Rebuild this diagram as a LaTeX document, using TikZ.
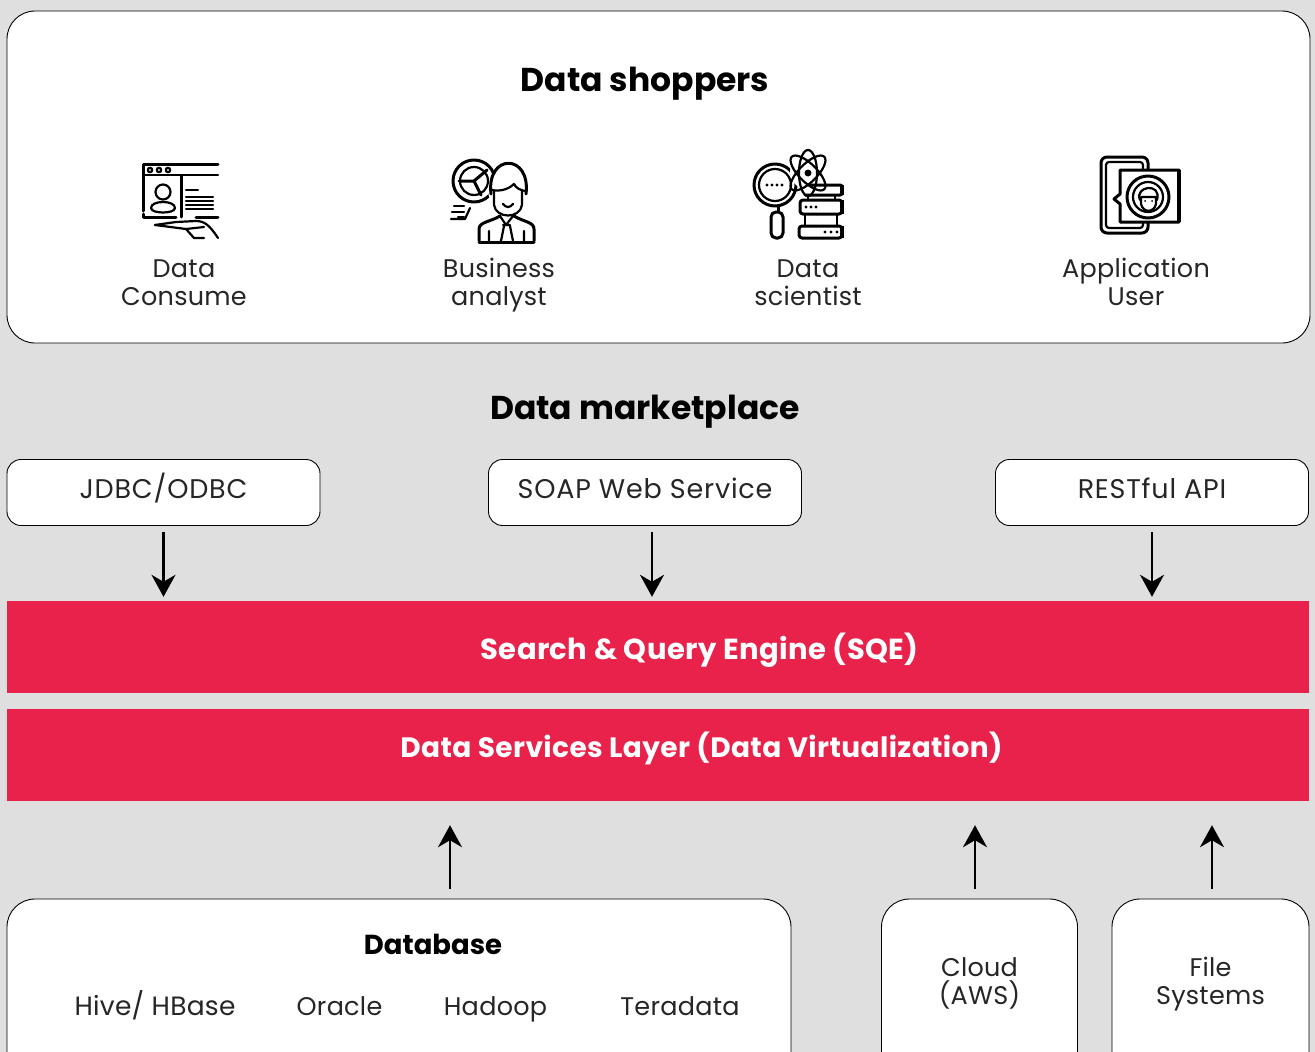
\documentclass[tikz,border=0pt]{standalone}
\usepackage{fontspec}
\setmainfont{Poppins}
\usetikzlibrary{arrows.meta,calc}
\definecolor{bgc}{HTML}{DFDFDF}
\definecolor{redc}{HTML}{E9224B}
\tikzset{
 x=1pt,y=-1pt,
 big/.style={rounded corners=28pt,draw=black,line width=0.9pt,fill=white,inner sep=0},
 api/.style={rounded corners=14pt,draw=black,line width=0.9pt,fill=white,inner sep=0,minimum width=313pt,minimum height=66pt},
 layer/.style={fill=redc,inner sep=0,minimum width=1302pt,minimum height=92pt},
 lab/.style={font=\fontsize{25.5}{28}\selectfont\addfontfeatures{LetterSpace=1},align=center,text=black!85,inner sep=0,text height=18pt,text depth=6pt},
 apilab/.style={font=\fontsize{27}{28}\selectfont\addfontfeatures{LetterSpace=3},text=black!85,inner sep=0,text height=18pt,text depth=6pt},
 head/.style={font=\fontsize{33}{36}\selectfont\bfseries,inner sep=0,text height=24pt,text depth=8pt},
 whitehead/.style={text=white,inner sep=0,text height=20pt,text depth=8pt},
 arr/.style={-{Stealth[length=22pt,width=24pt,inset=7pt]},line width=2.4pt,black},
 ic/.style={draw=black,line width=3pt,line join=round,line cap=round},
 ict/.style={draw=black,line width=2.2pt,line join=round,line cap=round},
}
\begin{document}
\begin{tikzpicture}
\useasboundingbox (0,0) rectangle (1315,1052);
\clip (0,0) rectangle (1315,1052);
\fill[bgc] (0,0) rectangle (1315,1052);
% top panel
\node[big,minimum width=1303pt,minimum height=332pt] (shoppers) at (658.5,177) {};
\node[head] (t1) at (645,83) {Data shoppers};
\node[lab] (l1) at (184,299) {Data\\Consume};
\node[lab] (l2) at (499,299) {Business\\analyst};
\node[lab] (l3) at (808,299) {Data\\scientist};
\node[lab] (l4) at (1136,299) {Application\\User};
% icon 1
\draw[ic] (218,164) -- (143,164) -- (143,211);
\draw[ict] (143,175) -- (218,175);
\foreach \i in {150,159,168} \draw[ict] (\i,170) circle (2.2pt);
\draw[ic] (181,176) -- (181,217);
\draw[ic] (143,214) -- (143,217) -- (176,217);
\draw[ic] (196,217) -- (218,217);
\draw[ict] (163,192) circle (7.5pt);
\draw[ict] (151,208) .. controls (151,200) and (175,200) .. (175,208) .. controls (175,214) and (151,214) .. (151,208);
\draw[ict] (186,190) -- (198,190);
\foreach \y in {197,201,205,209} \draw[ict] (186,\y) -- (213,\y);
\draw[ict] (155,225) -- (176,222) -- (196,221) .. controls (205,221) and (210,226) .. (218,238);
\draw[ict] (155,225) -- (186,229) -- (194,238) -- (204,238);
\draw[ict] (186,229) -- (204,227);
% icon 2
\draw[ic] (474,181) circle (21pt);
\draw[ict] (474,181) circle (14pt);
\draw[ic] (474,181) -- (487,170) (474,181) -- (459,181) (474,181) -- (481,195);
\fill[white] (509,190) circle (21pt);
\fill[white] (480,216) rectangle (534,242);
\draw[ic] (491,194) .. controls (486,153) and (531,153) .. (526,194);
\draw[ict] (492,190) .. controls (502,192) and (510,188) .. (514,184) .. controls (516,188) and (520,190) .. (525,191);
\draw[ict] (494,191) -- (494,205) .. controls (496,219) and (520,219) .. (522,205) -- (522,191);
\draw[ict] (503,204) .. controls (506,208) and (510,208) .. (513,204);
\draw[ic] (479,241) -- (479,229) .. controls (479,222) and (490,222) .. (500,216);
\draw[ic] (534,241) -- (534,229) .. controls (534,222) and (524,222) .. (514,216);
\draw[ic] (479,242) -- (534,242);
\draw[ict] (500,216) -- (506,225) -- (513,216);
\draw[ict] (503,225) -- (510,225) (504,226) -- (501,241) (510,226) -- (513,241) (489,231) -- (489,241) (524,231) -- (524,241);
\draw[ict] (451,219) -- (465,219) -- (470,208);
\draw[ict] (454,206) -- (464,206) (452,212) -- (464,212) (458,217) -- (464,217);
% icon 3
\draw[ic] (775,185) circle (21pt);
\draw[ict] (775,185) circle (16pt);
\foreach \i in {767,772,777,782} \fill (\i,185) circle (1.6pt);
\draw[ic] (778,207) -- (778,212);
\draw[ic,rounded corners=5pt] (771,212) rectangle (783,238);
\fill[white] (807,172) circle (17pt);
\foreach \a in {-45,45,90} \draw[ict,rotate around={\a:(808,173)}] (808,173) ellipse (23pt and 9pt);
\fill (808,173) circle (3.5pt);
\draw[ic,rounded corners=2pt] (811,185) -- (842,185) -- (842,195) -- (805,195);
\draw[ic,rounded corners=3pt] (800,200) rectangle (842,214);
\draw[ict] (808,195) -- (808,200) (835,195) -- (835,200) (805,214) -- (805,226) (837,214) -- (837,226);
\draw[ic,rounded corners=3pt] (799,226) rectangle (842,238);
\foreach \i in {806,811,816} \fill (\i,207) circle (1.6pt);
\foreach \i in {825,831,837} \fill (\i,232) circle (1.6pt);
\fill (840,185) rectangle (844,195);
\fill (840,200) rectangle (844,214);
\fill (840,226) rectangle (844,238);
% icon 4
\draw[ic,rounded corners=6pt] (1101,157) rectangle (1148,233);
\draw[ict,rounded corners=3pt] (1106,162) rectangle (1143,228);
\fill[white] (1120,170) rectangle (1179,222);
\draw[ic] (1120,194) -- (1120,170) -- (1179,170) -- (1179,222) -- (1120,222) -- (1120,204) -- (1114,199) -- cycle;
\fill (1177,170) rectangle (1181,222);
\draw[ic] (1148,197) circle (21pt);
\draw[ict] (1148,197) circle (15pt);
\draw[ict] (1140,200) .. controls (1134,186) and (1162,182) .. (1157,200);
\draw[ict] (1141,197) -- (1141,204) .. controls (1143,213) and (1154,213) .. (1156,204) -- (1156,197) -- (1141,197);
\fill (1145,201) circle (1pt) (1152,201) circle (1pt);
% middle
\node[head] (t2) at (645,411) {Data marketplace};
\node[api] (jdbc) at (163.5,492.5) {};
\node[api] (soap) at (645,492.5) {};
\node[api] (rest) at (1152,492.5) {};
\node[apilab] (jdbct) at (163.5,492) {JDBC/ODBC};
\node[apilab] (soapt) at (645,492) {SOAP Web Service};
\node[apilab] (restt) at (1152,492) {RESTful API};
\node[layer] (sqe) at (658,647) {};
\node[layer] (dsl) at (658,755) {};
\node[whitehead,font=\fontsize{29}{30}\selectfont\bfseries\addfontfeatures{LetterSpace=1.5}] (sqet) at (699.5,653) {Search \& Query Engine (SQE)};
\node[whitehead,font=\fontsize{28}{30}\selectfont\bfseries\addfontfeatures{LetterSpace=1.5}] (dslt) at (701.5,751) {Data Services Layer (Data Virtualization)};
% bottom
\node[big,minimum width=784pt,minimum height=200pt] (db) at (399,999) {};
\node[big,minimum width=196pt,minimum height=200pt] (cloud) at (979.5,999) {};
\node[big,minimum width=197pt,minimum height=200pt] (files) at (1210.5,999) {};
\node[font=\fontsize{27.5}{30}\selectfont\bfseries,inner sep=0,text height=20pt,text depth=8pt] (dbt) at (433,948) {Database};
\node[lab,font=\fontsize{26.5}{28}\selectfont\addfontfeatures{LetterSpace=1}] (h1) at (155,1009) {Hive/ HBase};
\node[lab] (h2) at (339.5,1009) {Oracle};
\node[lab] (h3) at (495.5,1009) {Hadoop};
\node[lab] (h4) at (680,1009) {Teradata};
\node[lab] (c1) at (979.5,998) {Cloud\\(AWS)};
\node[lab] (f1) at (1210.5,998) {File\\Systems};
% connectors
\draw[arr,shorten <=6pt,shorten >=4pt] (jdbc.south) -- (jdbc.south |- sqe.north);
\draw[arr,shorten <=6pt,shorten >=4pt] ([xshift=7pt]soap.south) -- ([xshift=7pt]soap.south |- sqe.north);
\draw[arr,shorten <=6pt,shorten >=4pt] (rest.south) -- (rest.south |- sqe.north);
\draw[arr,shorten <=10pt,shorten >=24pt] ([xshift=51pt]db.north) -- ([xshift=51pt]db.north |- dsl.south);
\draw[arr,shorten <=10pt,shorten >=24pt] ([xshift=-4.5pt]cloud.north) -- ([xshift=-4.5pt]cloud.north |- dsl.south);
\draw[arr,shorten <=10pt,shorten >=24pt] ([xshift=1.5pt]files.north) -- ([xshift=1.5pt]files.north |- dsl.south);
\end{tikzpicture}
\end{document}
